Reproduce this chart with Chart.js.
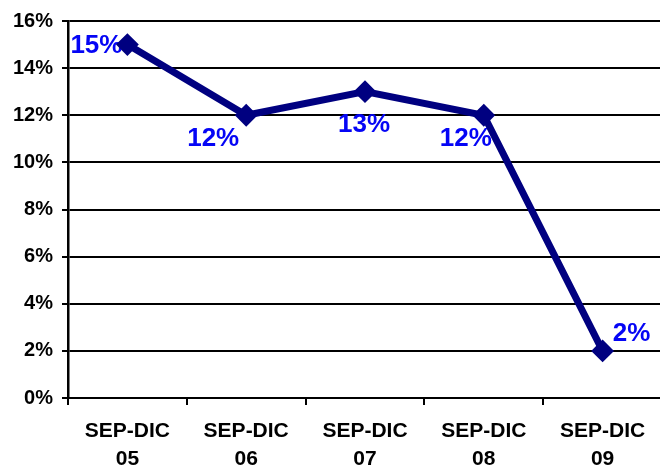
<!DOCTYPE html>
<html>
<head>
<meta charset="utf-8">
<script src="https://cdn.jsdelivr.net/npm/chart.js@4.4.1/dist/chart.umd.min.js"></script>
<style>
  html, body { margin: 0; padding: 0; background: #fff; }
  #wrap { width: 660px; height: 466px; overflow: hidden; position: relative; }
  #box { width: 674px; height: 466px; position: absolute; left: 0; top: 0; }
</style>
</head>
<body>
<div id="wrap"><div id="box"><canvas id="chart"></canvas></div></div>
<script>
// 数据
const periods = [['SEP-DIC', '05'], ['SEP-DIC', '06'], ['SEP-DIC', '07'], ['SEP-DIC', '08'], ['SEP-DIC', '09']];
const rates = [15, 12, 13, 12, 2];
const yTicks = [0, 2, 4, 6, 8, 10, 12, 14, 16];

// 数据标签的位置（相对于点）
const labelOffsets = [[-31, 1], [-33, 24], [-1, 33], [-18, 24], [29, -17]];

const labelPlugin = {
    id: 'pointLabels',
    beforeDatasetsDraw(chart) {
        const ctx = chart.ctx;
        const meta = chart.getDatasetMeta(0);
        ctx.save();
        ctx.font = 'bold 26px "Liberation Sans", Arial, sans-serif';
        ctx.fillStyle = '#0505f5';
        ctx.textAlign = 'center';
        ctx.textBaseline = 'middle';
        meta.data.forEach((pt, i) => {
            const off = labelOffsets[i];
            ctx.fillText(rates[i] + '%', pt.x + off[0], pt.y + off[1]);
        });
        ctx.restore();
    }
};

const yFont = { family: '"Liberation Sans", Arial, sans-serif', size: 20, weight: 'bold' };
const xFont = { family: '"Liberation Sans", Arial, sans-serif', size: 21, weight: 'bold', lineHeight: 1.3 };

new Chart(document.getElementById('chart'), {
    type: 'line',
    data: {
        labels: periods,
        datasets: [{
            data: rates,
            borderColor: '#000080',
            backgroundColor: '#000080',
            borderWidth: 7,
            pointStyle: 'rectRot',
            pointRadius: 10,
            pointBorderWidth: 2,
            pointBackgroundColor: '#000080',
            pointBorderColor: '#000080',
            tension: 0
        }]
    },
    options: {
        responsive: true,
        maintainAspectRatio: false,
        animation: false,
        layout: { padding: { top: 19, right: 2, left: 0, bottom: 0 } },
        plugins: { legend: { display: false }, tooltip: { enabled: false } },
        scales: {
            x: {
                offset: true,
                grid: { offset: true, drawOnChartArea: false, color: '#000', lineWidth: 2, tickLength: 7 },
                border: { color: '#000', width: 2 },
                ticks: { color: '#000', font: xFont, padding: 13, maxRotation: 0, autoSkip: false },
                afterFit(scale) { scale.height = 68; }
            },
            y: {
                min: 0,
                max: 16,
                afterBuildTicks(scale) { scale.ticks = yTicks.map(v => ({ value: v })); },
                grid: { color: '#000', lineWidth: 2, tickLength: 6 },
                border: { color: '#000', width: 2.5 },
                ticks: { color: '#000', font: yFont, padding: 9, callback: v => v + '%' },
                afterFit(scale) { scale.width = 68; }
            }
        }
    },
    plugins: [labelPlugin]
});
</script>
</body>
</html>
